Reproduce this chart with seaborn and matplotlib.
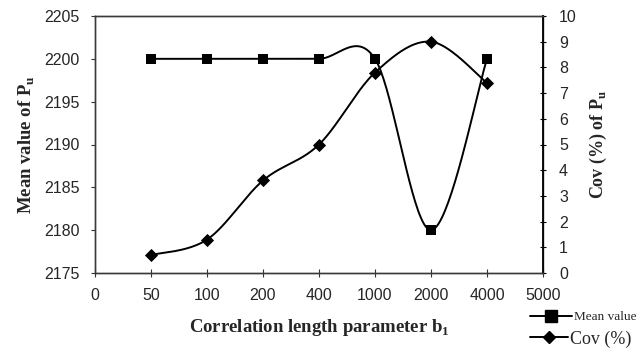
import numpy as np
import pandas as pd
import matplotlib
matplotlib.use("Agg")
import matplotlib.pyplot as plt
import seaborn as sns

# Data
tick_labels = ["0", "50", "100", "200", "400", "1000", "2000", "4000", "5000"]
b1_values = ["50", "100", "200", "400", "1000", "2000", "4000"]
mean_pu = [2200, 2200, 2200, 2200, 2200, 2180, 2200]
cov_pu = [0.7, 1.3, 3.6, 5.0, 7.8, 9.0, 7.4]

sns.set_theme(style="white")
plt.rcParams["font.family"] = ["Liberation Sans", "DejaVu Sans"]
plt.rcParams["mathtext.fontset"] = "custom"
plt.rcParams["mathtext.rm"] = "Liberation Serif"
plt.rcParams["mathtext.bf"] = "Liberation Serif:bold"

SERIF = ["Liberation Serif", "DejaVu Serif"]


def smooth_curve(x, y, n=40):
    """Bezier smoothing through the points (spreadsheet-style smoothed line)."""
    pts = np.column_stack([np.asarray(x, float), np.asarray(y, float)])
    out = []
    for i in range(len(pts) - 1):
        p0 = pts[max(i - 1, 0)]
        p1 = pts[i]
        p2 = pts[i + 1]
        p3 = pts[min(i + 2, len(pts) - 1)]
        c1 = p1 + (p2 - p0) / 6.0
        c2 = p2 - (p3 - p1) / 6.0
        t = np.linspace(0, 1, n)[:, None]
        seg = (1 - t) ** 3 * p1 + 3 * (1 - t) ** 2 * t * c1 + 3 * (1 - t) * t ** 2 * c2 + t ** 3 * p2
        out.append(seg if i == 0 else seg[1:])
    return np.vstack(out)


pos = np.arange(1, len(b1_values) + 1)
df = pd.DataFrame({"pos": pos, "b1": b1_values, "mean": mean_pu, "cov": cov_pu})

fig = plt.figure(figsize=(6.42, 3.58), dpi=100)
ax = fig.add_axes([95 / 642, 1 - 273 / 358, (543 - 95) / 642, (273 - 16) / 358])
ax2 = ax.twinx()

# Mean value series (left axis)
sm = smooth_curve(df["pos"], df["mean"])
sns.lineplot(x=sm[:, 0], y=sm[:, 1], ax=ax, sort=False, color="black", lw=1.4, estimator=None)
sns.scatterplot(data=df, x="pos", y="mean", ax=ax, marker="s", s=60, color="black",
                edgecolor="black", linewidth=0, zorder=5)

# Cov series (right axis)
sc = smooth_curve(df["pos"], df["cov"])
sns.lineplot(x=sc[:, 0], y=sc[:, 1], ax=ax2, sort=False, color="black", lw=1.4, estimator=None)
sns.scatterplot(data=df, x="pos", y="cov", ax=ax2, marker="D", s=45, color="black",
                edgecolor="black", linewidth=0, zorder=5)

ax.set_xlim(0, 8)
ax.set_ylim(2175, 2205)
ax2.set_ylim(0, 10)
ax.set_xticks(range(len(tick_labels)))
ax.set_xticklabels(tick_labels)
ax.set_yticks(np.arange(2175, 2206, 5))
ax2.set_yticks(np.arange(0, 11, 1))

for a in (ax, ax2):
    for s in a.spines.values():
        s.set_color("#3a3a3a")
        s.set_linewidth(1.0)
ax2.spines["right"].set_color("black")
ax2.spines["right"].set_linewidth(1.3)

ax.tick_params(axis="y", direction="out", length=3, width=0.8, color="#333", pad=8,
               labelsize=11.5, left=True)
ax.tick_params(axis="x", direction="inout", length=6, width=0.8, color="#333", pad=8,
               labelsize=11.5, bottom=True)
ax2.tick_params(axis="y", direction="inout", length=5, width=0.8, color="black", pad=9,
                labelsize=11.5, right=True)

ax.set_xlabel("Correlation length parameter b$_\\mathbf{1}$", family=SERIF,
              fontweight="bold", fontsize=13.5, labelpad=10)
ax.set_ylabel("Mean value of P$_\\mathbf{u}$", family=SERIF, fontweight="bold",
              fontsize=13.5, labelpad=5)
ax2.set_ylabel("Cov (%) of P$_\\mathbf{u}$", family=SERIF, fontweight="bold",
               fontsize=13, labelpad=8)

ax.grid(False)
ax2.grid(False)

# Legend entries below the right axis
h_mean = plt.Line2D([], [], color="black", lw=1.4, marker="s", markersize=8)
h_cov = plt.Line2D([], [], color="black", lw=1.4, marker="D", markersize=6.5)
leg1 = fig.legend([h_mean], ["Mean value"], loc="center left",
                  bbox_to_anchor=(530 / 642, 1 - 317 / 358), frameon=False,
                  borderpad=0, borderaxespad=0, handlelength=3.2, handletextpad=0.15,
                  prop={"family": SERIF, "size": 9.5})
leg2 = fig.legend([h_cov], ["Cov (%)"], loc="center left",
                  bbox_to_anchor=(530 / 642, 1 - 339 / 358), frameon=False,
                  borderpad=0, borderaxespad=0, handlelength=2.1, handletextpad=0.1,
                  prop={"family": SERIF, "size": 13})

fig.savefig("out.png", dpi=100)
